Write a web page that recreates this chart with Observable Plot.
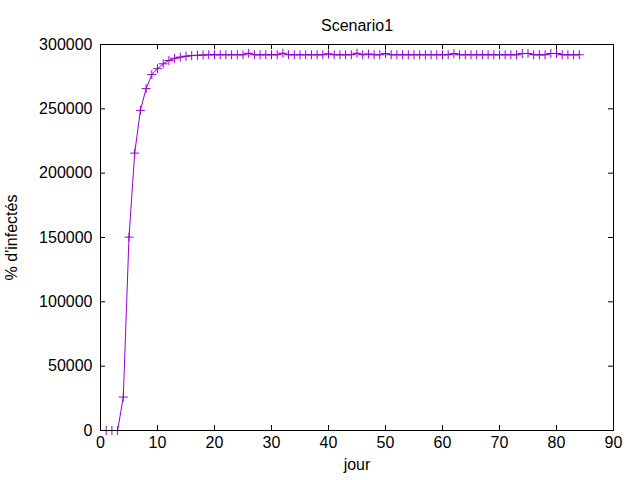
<!DOCTYPE html>
<html><head><meta charset="utf-8">
<script src="https://cdn.jsdelivr.net/npm/d3@7"></script>
<script src="https://cdn.jsdelivr.net/npm/@observablehq/plot@0.6"></script>
<style>body{margin:0;background:#fff}</style>
</head><body><div id="chart"></div>
<script>
const days = [1,2,3,4,5,6,7,8,9,10,11,12,13,14,15,16,17,18,19,20,21,22,23,24,25,26,27,28,29,30,31,32,33,34,35,36,37,38,39,40,41,42,43,44,45,46,47,48,49,50,51,52,53,54,55,56,57,58,59,60,61,62,63,64,65,66,67,68,69,70,71,72,73,74,75,76,77,78,79,80,81,82,83,84];
const infected = [0,0,0,26000,150300,215600,248800,265700,276600,281200,285000,287600,289300,290200,290900,291400,291600,291800,292000,292000,292000,292000,292000,292000,292000,293200,292000,292000,292000,292000,292000,293200,292000,292000,292000,292000,292000,292000,292000,292700,292000,292000,292000,292000,293200,292000,292600,292000,292000,292900,292000,292000,292000,292000,292000,292000,292000,292000,292000,292000,292000,292900,292000,292000,292000,292000,292000,292000,292000,292000,292000,292000,292000,293000,293000,292000,292000,292000,293000,293000,292000,292000,292000,292000];
const xTicks = [0,10,20,30,40,50,60,70,80,90];
const yTicks = [0,50000,100000,150000,200000,250000,300000];
const title = "Scenario1";
const xLabel = "jour";
const yLabel = "% d'infectés";

const W = 640, H = 480, mL = 100, mR = 27, mT = 44, mB = 50;
const pw = W - mL - mR, ph = H - mT - mB, tl = 5;
const color = "#9400d3";
const data = days.map((d, i) => ({day: d, v: infected[i]}));

const chart = Plot.plot({
  width: W, height: H,
  marginLeft: mL, marginRight: mR, marginTop: mT, marginBottom: mB,
  style: {fontFamily: "'Liberation Sans', Arial, sans-serif", fontSize: "16px", background: "#fff", color: "#000"},
  x: {domain: [0, 90]},
  y: {domain: [0, 300000]},
  marks: [
    Plot.axisX({ticks: xTicks, tickSize: 0, tickPadding: 6, label: null, fontSize: 16}),
    Plot.axisY({ticks: yTicks, tickSize: 0, tickPadding: 8, label: null, fontSize: 16, tickFormat: d => String(d)}),
    Plot.tickX(xTicks, {x: d => d, insetTop: ph - tl, stroke: "#000"}),
    Plot.tickX(xTicks, {x: d => d, insetBottom: ph - tl, stroke: "#000"}),
    Plot.tickY(yTicks, {y: d => d, insetRight: pw - tl, stroke: "#000"}),
    Plot.tickY(yTicks, {y: d => d, insetLeft: pw - tl, stroke: "#000"}),
    Plot.line(data, {x: "day", y: "v", stroke: color, strokeWidth: 1}),
    Plot.dot(data, {x: "day", y: "v", symbol: "plus", r: 3, stroke: color, fill: "none", strokeWidth: 1}),
    Plot.frame({stroke: "#000"}),
    Plot.text([title], {frameAnchor: "top", dy: -25, fontSize: 16}),
    Plot.text([xLabel], {frameAnchor: "bottom", dy: 39, fontSize: 16}),
    Plot.text([yLabel], {frameAnchor: "left", dx: -89, rotate: -90, textAnchor: "middle", fontSize: 16})
  ]
});
document.getElementById("chart").append(chart);
</script>
</body></html>
